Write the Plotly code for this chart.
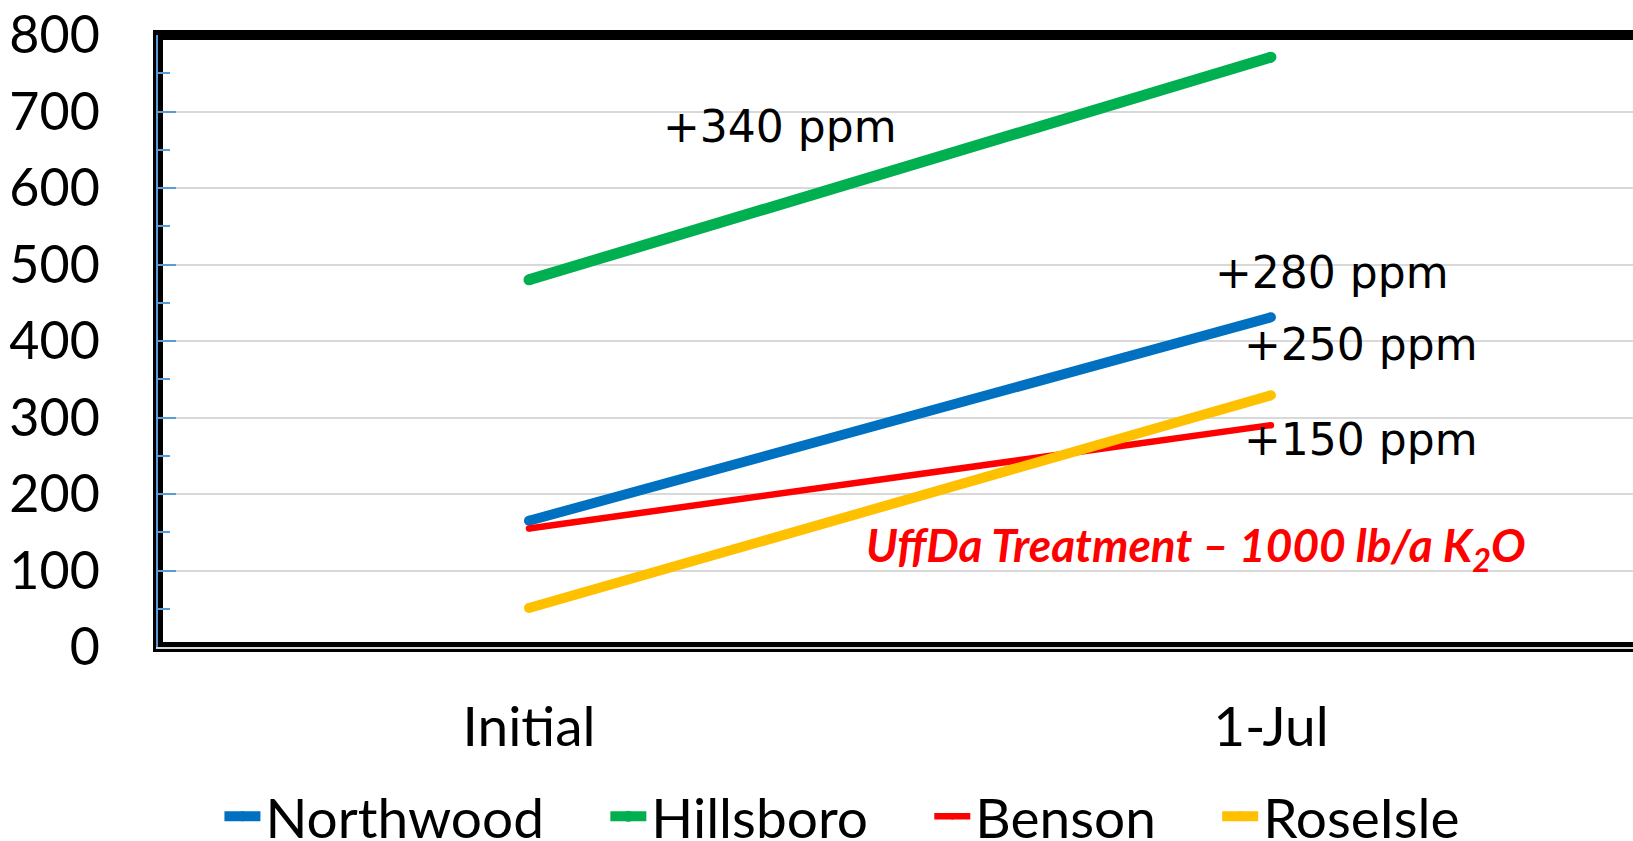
import plotly.graph_objects as go

categories = ["Initial", "1-Jul"]
northwood = [165, 431]
hillsboro = [480, 771]
benson = [155, 290]
roseisle = [51, 329]

series_names = ["Northwood", "Hillsboro", "Benson", "RoseIsle"]
series_values = [northwood, hillsboro, benson, roseisle]
series_colors = ["#0070C0", "#00B050", "#FF0000", "#FFC000"]
series_widths = [10, 11, 6.5, 10]

y_ticks = [0, 100, 200, 300, 400, 500, 600, 700, 800]

ann_texts = ["+340 ppm", "+280 ppm", "+250 ppm", "+150 ppm"]
ann_x = [0.338, 1.082, 1.121, 1.121]
ann_y = [680, 489, 396, 271]
treatment_text = "UffDa Treatment – 1000 lb/a K<sub>2</sub>O"

W, H = 1633, 841
L, T, B = 158, 35, 194
NB = "\u00a0"

fig = go.Figure()
for name, vals, col, w in zip(series_names, series_values, series_colors, series_widths):
    fig.add_trace(go.Scatter(
        x=categories, y=vals, name=name + NB * 4, mode="lines+markers",
        line=dict(color=col, width=w),
        marker=dict(color=col, size=w, line=dict(width=0)),
    ))

for t, x, y in zip(ann_texts, ann_x, ann_y):
    fig.add_annotation(x=x, y=y, xref="x", yref="y", text=t, showarrow=False,
                       font=dict(family="DejaVu Sans", size=44, color="black"),
                       xanchor="center", yanchor="middle")

fig.add_annotation(x=0.899, y=129, xref="x", yref="y", text="<b><i>" + treatment_text + "</i></b>",
                   showarrow=False, font=dict(family="Lato", size=46, color="#FF0000"),
                   xanchor="center", yanchor="middle")

# thick black plot-area frame
fig.add_shape(type="rect", xref="paper", yref="paper", x0=0, x1=1.2, y0=0, y1=1,
              line=dict(color="black", width=10), layer="below")

fig.update_layout(
    width=W, height=H,
    margin=dict(l=L, r=0, t=T, b=B, pad=0),
    paper_bgcolor="white", plot_bgcolor="white",
    font=dict(family="Lato", color="black"),
    showlegend=True,
    legend=dict(orientation="h", x=0.483, xanchor="center", y=0.029, yanchor="middle",
                yref="container", font=dict(family="Lato", size=55, color="black"),
                itemwidth=36, tracegroupgap=0, bgcolor="rgba(0,0,0,0)", borderwidth=0),
    xaxis=dict(type="category", range=[-0.5, 1.488], showgrid=False, showline=True,
               linecolor="#D9D9D9", linewidth=1.5, ticks="", zeroline=False,
               tickfont=dict(family="Lato", size=55, color="black"),
               ticklabelstandoff=31),
    yaxis=dict(range=[0, 800], tickvals=y_ticks, showgrid=True, gridcolor="#D9D9D9",
               gridwidth=1.5, showline=True, linecolor="#5B9BD5", linewidth=1.5,
               ticks="inside", ticklen=18, tickcolor="#5B9BD5", tickwidth=1.5,
               minor=dict(ticks="inside", ticklen=12, dtick=50, tickcolor="#5B9BD5",
                          tickwidth=1.5, showgrid=False),
               zeroline=False,
               tickfont=dict(family="Lato", size=52, color="black"),
               ticklabelstandoff=46),
)

fig.write_html("out.html")
